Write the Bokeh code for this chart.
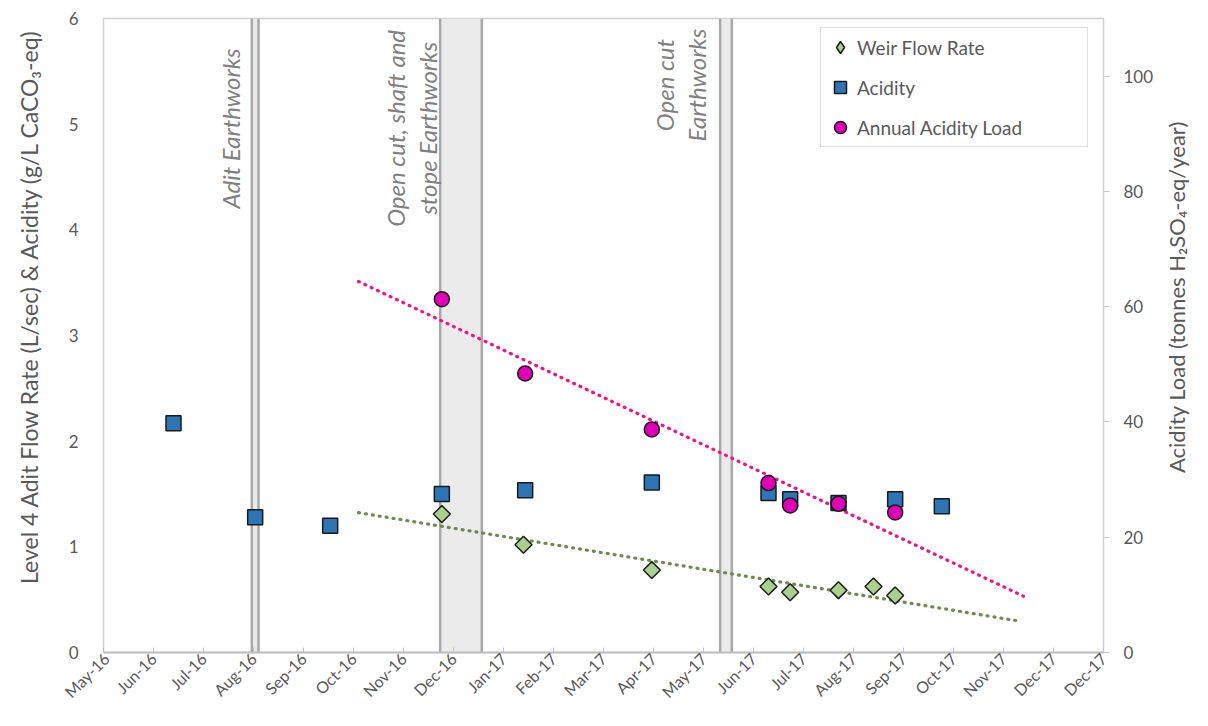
import numpy as np
import pandas as pd
from bokeh.plotting import figure
from bokeh.layouts import row
from bokeh.models import (Range1d, LinearAxis, FixedTicker, Span, BoxAnnotation,
                          Legend, LegendItem, ColumnDataSource)
from bokeh.core.properties import value
from bokeh.embed import file_html
from bokeh.resources import INLINE

# ---------------- data ----------------
acidity_dates = ["2016-06-21", "2016-08-09", "2016-09-23", "2016-11-29", "2017-01-18",
                 "2017-04-04", "2017-06-13", "2017-06-26", "2017-07-25", "2017-08-28",
                 "2017-09-25"]
acidity_values = [2.17, 1.28, 1.20, 1.50, 1.535, 1.61, 1.51, 1.45, 1.415, 1.45, 1.385]

flow_dates = ["2016-11-29", "2017-01-17", "2017-04-04", "2017-06-13", "2017-06-26",
              "2017-07-25", "2017-08-15", "2017-08-28"]
flow_values = [1.31, 1.02, 0.78, 0.625, 0.57, 0.59, 0.625, 0.54]

load_dates = ["2016-11-29", "2017-01-18", "2017-04-04", "2017-06-13", "2017-06-26",
              "2017-07-25", "2017-08-28"]
load_values = [61.3, 48.4, 38.7, 29.4, 25.5, 25.8, 24.3]

tick_labels = ["May-16", "Jun-16", "Jul-16", "Aug-16", "Sep-16", "Oct-16", "Nov-16",
               "Dec-16", "Jan-17", "Feb-17", "Mar-17", "Apr-17", "May-17", "Jun-17",
               "Jul-17", "Aug-17", "Sep-17", "Oct-17", "Nov-17", "Dec-17", "Dec-17"]

event_starts = ["2016-08-07", "2016-11-28", "2017-05-15"]
event_ends = ["2016-08-11", "2016-12-23", "2017-05-22"]
event_texts = ["Adit Earthworks", "Open cut, shaft and\nstope Earthworks", "Open cut\nEarthworks"]

left_title = "Level 4 Adit Flow Rate (L/sec) & Acidity (g/L CaCO\u2083-eq)"
right_title = "Acidity Load (tonnes H\u2082SO\u2084-eq/year)"

# ---------------- layout / style constants ----------------
axis_start = pd.Timestamp("2016-05-10")
axis_end = pd.Timestamp("2017-12-31")
tick_step_days = 30
text_pos_dates = ["2016-07-25", "2016-11-11", "2017-04-21"]
text_pos_y = [4.96, 4.96, 5.37]
trend_from = "2016-10-10"
trend_to_load = "2017-11-13"
trend_to_flow = "2017-11-10"

H = 710
LEFT_W, MAIN_W, RIGHT_W = 60, 1100, 32
FONT = "Lato"
GREY = "#595959"
FLOW_FILL, ACID_FILL, LOAD_FILL, EDGE = "#a9d18e", "#2e75b6", "#e000b8", "#1a1a1a"


def ms(d):
    return pd.Timestamp(d).value / 1e6


p = figure(width=MAIN_W, height=H, x_axis_type="datetime",
           output_backend="svg", toolbar_location=None,
           x_range=Range1d(ms(axis_start), ms(axis_end)),
           y_range=Range1d(0, 6),
           min_border_left=43, min_border_right=57, min_border_top=18, min_border_bottom=53)
p.extra_y_ranges = {"load": Range1d(0, 110)}
p.xgrid.visible = False
p.ygrid.visible = False
p.outline_line_color = "#d0d0d0"
p.outline_line_width = 1.5
p.background_fill_color = "white"
p.border_fill_color = "white"

# x axis ticks
ticks = [ms(axis_start + pd.Timedelta(days=tick_step_days * k)) for k in range(len(tick_labels))]
p.xaxis.ticker = FixedTicker(ticks=ticks)
p.xaxis.major_label_overrides = {t: lab for t, lab in zip(ticks, tick_labels)}
p.xaxis.major_label_orientation = np.pi / 4
p.xaxis.major_label_standoff = 3
p.xaxis.axis_line_color = "#bfbfbf"
p.xaxis.axis_line_width = 2
p.xaxis.major_tick_in = 5
p.xaxis.major_tick_out = 0
p.xaxis.major_tick_line_color = "#bfbfbf"
p.xaxis.minor_tick_line_color = None
p.xaxis.major_label_text_font = FONT
p.xaxis.major_label_text_font_size = "16px"
p.xaxis.major_label_text_color = GREY

# left axis
p.yaxis.ticker = FixedTicker(ticks=[0, 1, 2, 3, 4, 5, 6])
p.yaxis.axis_line_color = None
p.yaxis.major_tick_line_color = None
p.yaxis.minor_tick_line_color = None
p.yaxis.major_label_standoff = 19
p.yaxis.major_label_text_font = FONT
p.yaxis.major_label_text_font_size = "17px"
p.yaxis.major_label_text_color = GREY

# right axis
ra = LinearAxis(y_range_name="load", ticker=FixedTicker(ticks=[0, 20, 40, 60, 80, 100]))
ra.axis_line_color = None
ra.major_tick_out = 6
ra.major_tick_in = 0
ra.major_tick_line_color = "#c8c8c8"
ra.minor_tick_line_color = None
ra.major_label_standoff = 14
ra.major_label_text_font = FONT
ra.major_label_text_font_size = "17px"
ra.major_label_text_color = GREY
p.add_layout(ra, "right")

# event bands
for s, e in zip(event_starts, event_ends):
    p.add_layout(BoxAnnotation(left=ms(s), right=ms(e), fill_color="#ebebeb", fill_alpha=1,
                               line_color=None, level="underlay"))
    for loc in (s, e):
        p.add_layout(Span(location=ms(loc), dimension="height", line_color="#a8a8a8",
                          line_width=2.5, level="underlay"))

tsrc = ColumnDataSource(dict(x=[ms(d) for d in text_pos_dates], y=text_pos_y, t=event_texts))
p.text(x="x", y="y", text="t", source=tsrc, angle=np.pi / 2, text_align="center",
       text_baseline="middle", text_font=value(FONT), text_font_style="italic",
       text_font_size="24px", text_color="#808080", text_line_height=1.1)

# trend lines (least squares fits of the series)
def trend(dates, vals, t_from, t_to):
    xs = np.array([ms(d) for d in dates])
    k, b = np.polyfit(xs, np.array(vals), 1)
    xe = np.array([ms(t_from), ms(t_to)])
    return xe, k * xe + b

lx, ly = trend(load_dates, load_values, trend_from, trend_to_load)
fx, fy = trend(flow_dates, flow_values, trend_from, trend_to_flow)
p.line(fx, fy, line_color="#6f8a4c", line_width=3.2, line_dash="1 6", line_cap="round")
p.line(lx, ly, line_color="#f0148c", line_width=3.2, line_dash="1 6", line_cap="round",
       y_range_name="load")

# series
flow_x = [ms(d) for d in flow_dates]
# upright diamonds (used for the legend key) sit under the 45-degree squares
r_flow_key = p.scatter(flow_x, flow_values, marker="diamond", size=12, fill_color=FLOW_FILL,
                       line_color=EDGE, line_width=1.5)
p.scatter(flow_x, flow_values, marker="square", angle=np.pi / 4,
          size=12, fill_color=FLOW_FILL, line_color=EDGE, line_width=1.5)
r_acid = p.scatter([ms(d) for d in acidity_dates], acidity_values, marker="square", size=15,
                   fill_color=ACID_FILL, line_color=EDGE, line_width=1.5)
r_load = p.scatter([ms(d) for d in load_dates], load_values, marker="circle", size=15,
                   fill_color=LOAD_FILL, line_color=EDGE, line_width=1.5,
                   y_range_name="load")

legend = Legend(items=[LegendItem(label="Weir Flow Rate", renderers=[r_flow_key]),
                       LegendItem(label="Acidity", renderers=[r_acid]),
                       LegendItem(label="Annual Acidity Load", renderers=[r_load])],
                location=(717, 505))
legend.padding = 4
legend.spacing = 10
legend.glyph_height = 30
legend.glyph_width = 30
legend.label_height = 30
legend.label_width = 226
legend.label_standoff = 2
legend.label_text_font = FONT
legend.label_text_font_size = "19px"
legend.label_text_color = GREY
legend.border_line_color = "#c0c0c0"
legend.border_line_width = 1.5
legend.background_fill_color = "white"
legend.background_fill_alpha = 1
p.add_layout(legend)


# axis titles in narrow side panels (pixel coordinates, y measured from the top)
def side_panel(width, text, cx, cy, size):
    f = figure(width=width, height=H, output_backend="svg", toolbar_location=None,
               x_range=Range1d(0, width), y_range=Range1d(H, 0),
               x_axis_location=None, y_axis_location=None, min_border=0)
    f.grid.visible = False
    f.outline_line_color = None
    f.border_fill_color = "white"
    f.background_fill_color = "white"
    f.text(x=[cx], y=[cy], text=[text], angle=np.pi / 2, text_align="center",
           text_baseline="middle", text_font=value(FONT), text_font_size=size,
           text_color=GREY)
    return f


left_panel = side_panel(LEFT_W, left_title, 28, 322, "23px")
right_panel = side_panel(RIGHT_W, right_title, 16, 312, "22px")

layout = row(left_panel, p, right_panel, spacing=0)
open("out.html", "w").write(file_html(layout, INLINE))
